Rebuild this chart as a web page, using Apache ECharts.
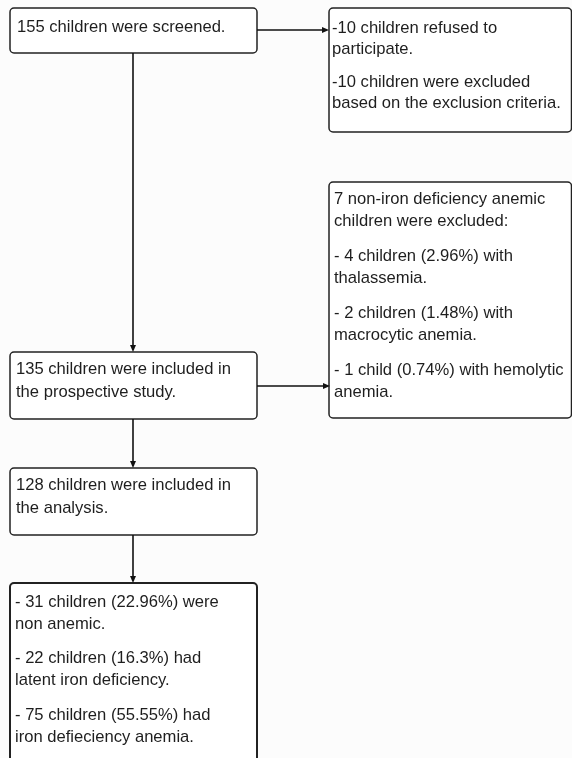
<!DOCTYPE html>
<html>
<head>
<meta charset="utf-8">
<script src="https://cdn.jsdelivr.net/npm/echarts@6/dist/echarts.min.js"></script>
<style>
html,body{margin:0;padding:0;background:#fcfcfc;}
#chart{width:572px;height:758px;}
</style>
</head>
<body>
<div id="chart"></div>
<script>
// Flowchart text content (paragraphs -> lines)
const screenedText = [["155 children were screened."]];
const excludedText = [["-10 children refused to", "participate."], ["-10 children were excluded", "based on the exclusion criteria."]];
const nonIdaText = [["7 non-iron deficiency anemic", "children were excluded:"], ["- 4 children (2.96%) with", "thalassemia."], ["- 2 children (1.48%) with", "macrocytic anemia."], ["- 1 child (0.74%) with hemolytic", "anemia."]];
const includedText = [["135 children were included in", "the prospective study."]];
const analysisText = [["128 children were included in", "the analysis."]];
const outcomeText = [["- 31 children (22.96%) were", "non anemic."], ["- 22 children (16.3%) had", "latent iron deficiency."], ["- 75 children (55.55%) had", "iron defieciency anemia."]];

// Layout (positions only)
const boxes = {
  screened: {x: 10, y: 8, w: 247, h: 45, text: screenedText, tx: 7, ty: 19, lh: 21, gap: 12, lw: 1.5},
  excluded: {x: 329, y: 8, w: 242.5, h: 124, text: excludedText, tx: 3, ty: 20, lh: 21, gap: 12, lw: 1.5},
  nonIda: {x: 329, y: 182, w: 242.5, h: 236, text: nonIdaText, tx: 5, ty: 17, lh: 22.5, gap: 12, lw: 1.5},
  included: {x: 10, y: 352, w: 247, h: 67, text: includedText, tx: 6, ty: 17, lh: 23, gap: 12, lw: 1.5},
  analysis: {x: 10, y: 468, w: 247, h: 67, text: analysisText, tx: 6, ty: 17, lh: 23, gap: 12, lw: 1.5},
  outcome: {x: 10, y: 583, w: 247, h: 200, text: outcomeText, tx: 5, ty: 19, lh: 22, gap: 12.5, lw: 2}
};
const links = [
  {from: [133, 53], to: [133, 352]},
  {from: [257, 30], to: [329, 30]},
  {from: [257, 386], to: [330, 386]},
  {from: [133, 419], to: [133, 468]},
  {from: [133, 535], to: [133, 583]}
];

const FONT = '"Liberation Sans", Arial, sans-serif';
const INK = '#1e1e1e';
const graphic = [];

Object.keys(boxes).forEach(function (k) {
  const b = boxes[k];
  graphic.push({
    type: 'rect',
    shape: {x: b.x, y: b.y, width: b.w, height: b.h, r: 4},
    style: {fill: '#ffffff', stroke: '#222', lineWidth: b.lw},
    z: 1
  });
  let y = b.y + b.ty;
  b.text.forEach(function (para, pi) {
    if (pi > 0) y += b.gap;
    para.forEach(function (line, li) {
      if (li > 0 || pi > 0) y += b.lh;
      graphic.push({
        type: 'text',
        x: b.x + b.tx,
        y: y,
        style: {text: line, font: '16.6px ' + FONT, fill: INK, textVerticalAlign: 'middle', textAlign: 'left'},
        z: 3
      });
    });
  });
});

links.forEach(function (l) {
  const dx = l.to[0] - l.from[0], dy = l.to[1] - l.from[1];
  const len = Math.sqrt(dx * dx + dy * dy);
  const ux = dx / len, uy = dy / len;
  const al = 7, aw = 3;
  const bx = l.to[0] - ux * al, by = l.to[1] - uy * al;
  graphic.push({
    type: 'line',
    shape: {x1: l.from[0], y1: l.from[1], x2: bx, y2: by},
    style: {stroke: '#111', lineWidth: 1.6},
    z: 2
  });
  graphic.push({
    type: 'polygon',
    shape: {points: [[l.to[0], l.to[1]], [bx - uy * aw, by + ux * aw], [bx + uy * aw, by - ux * aw]]},
    style: {fill: '#111'},
    z: 2
  });
});

const chart = echarts.init(document.getElementById('chart'), null, {renderer: 'canvas'});
chart.setOption({
  backgroundColor: '#fcfcfc',
  animation: false,
  graphic: graphic
});
</script>
</body>
</html>
